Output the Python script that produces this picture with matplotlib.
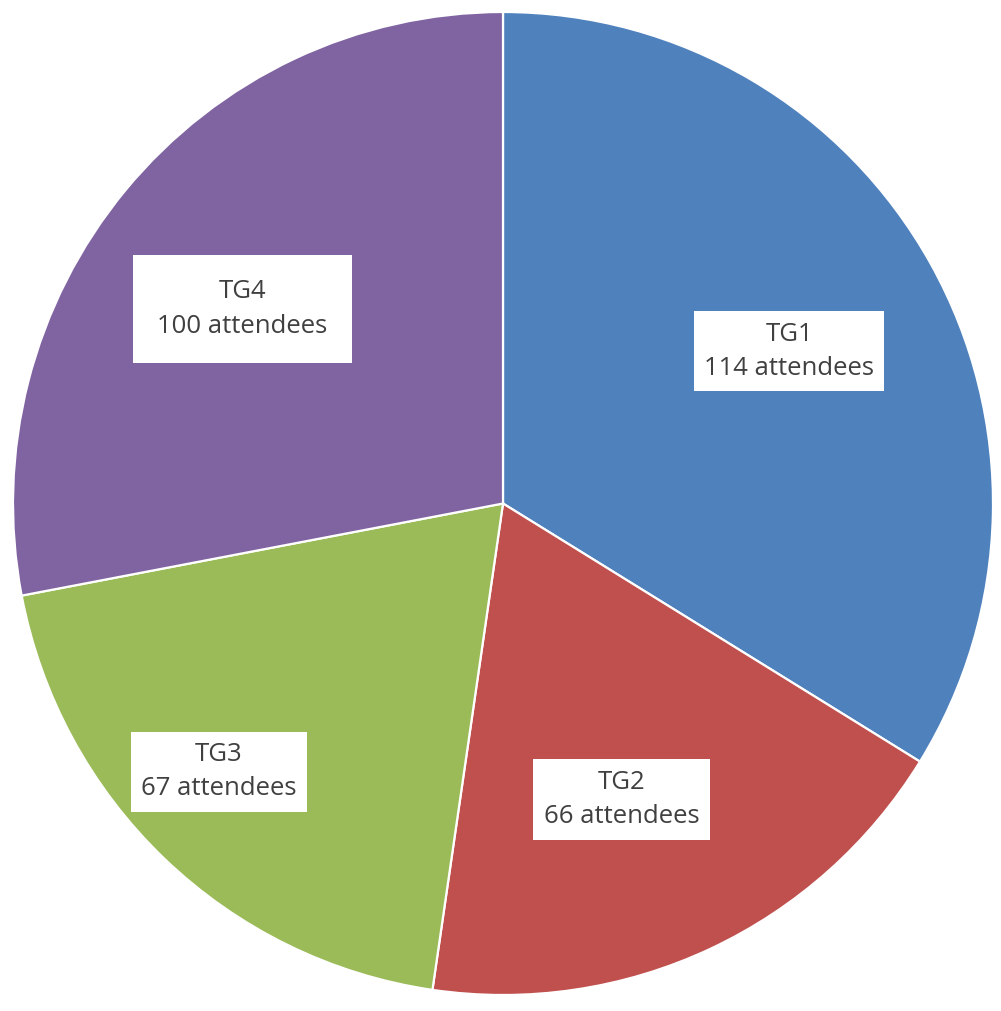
import matplotlib.pyplot as plt
import numpy as np

groups = ['TG1', 'TG2', 'TG3', 'TG4']
attendees = [114, 66, 67, 100]
# slice sizes as drawn in the picture (percent of the circle)
slice_share = [33.8, 18.5, 19.7, 28.0]
colors = ['#4F81BD', '#C0504D', '#9BBB59', '#8064A2']
# label placement: distance from centre (radius units), angle nudge (deg), box pad
label_dist = [0.661, 0.649, 0.796, 0.663]
label_nudge = [-1.25, -3.15, -3.0, 3.0]
label_pad = [0.4, 0.4, 0.4, 0.95]

fig = plt.figure(figsize=(10.01, 10.11), dpi=100)
ax = fig.add_axes([13 / 1001, 16 / 1011, 980 / 1001, 983 / 1011])

wedges, _ = ax.pie(slice_share, colors=colors, startangle=90, counterclock=False,
                   radius=1.0, center=(0, 0),
                   wedgeprops=dict(edgecolor='white', linewidth=1.6))

for w, g, n, d, nudge, pad in zip(wedges, groups, attendees, label_dist,
                                  label_nudge, label_pad):
    theta = np.deg2rad((w.theta1 + w.theta2) / 2 + nudge)
    ax.text(d * np.cos(theta), d * np.sin(theta), '%s\n%d attendees' % (g, n),
            ha='center', va='center', fontsize=18.5, family='Open Sans',
            color='#404040', linespacing=1.5,
            bbox=dict(boxstyle='square,pad=%g' % pad, fc='white', ec='none'))

ax.set_xlim(-1, 1)
ax.set_ylim(-1, 1)
ax.set_aspect('auto')
ax.axis('off')

fig.savefig('out.png', dpi=100)
